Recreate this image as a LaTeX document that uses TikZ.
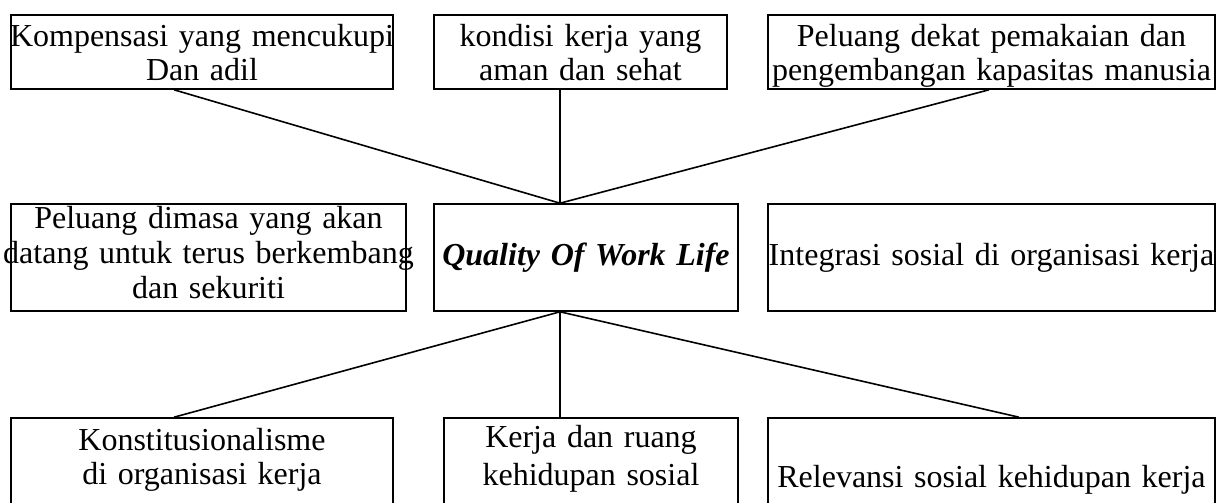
\documentclass[tikz,border=0pt]{standalone}
\usepackage{fontspec}
\setmainfont{Liberation Serif}
% one centred line of a box, allowed to run past the frame evenly
\newcommand\rowtxt[1]{\makebox[\linewidth][c]{#1}}
\begin{document}
\begin{tikzpicture}[x=1pt,y=-1pt,
  box/.style={draw, line width=1.6pt, inner sep=0pt, align=center,
    font=\fontsize{32}{34}\selectfont},
  toprow/.style={box, minimum height=74pt, text height=0pt, text depth=10pt},
  midrow/.style={box, minimum height=107pt},
  lowrow/.style={box, minimum height=112pt},
  link/.style={line width=1.6pt}]
\useasboundingbox (0,0) rectangle (1229,503);

% upper row
\node[toprow, minimum width=382pt, text width=382pt] (A) at (202,52)
  {\rowtxt{Kompensasi yang mencukupi}\\\rowtxt{Dan adil}};
\node[toprow, minimum width=293pt, text width=293pt] (B) at (580.5,52)
  {\rowtxt{kondisi kerja yang}\\\rowtxt{aman dan sehat}};
\node[toprow, minimum width=447pt, text width=447pt] (C) at (991.5,52)
  {\rowtxt{Peluang dekat pemakaian dan}\\\rowtxt{pengembangan kapasitas manusia}};

% middle row
\node[midrow, minimum width=395pt, text width=395pt, text height=0pt, text depth=59pt,
  font=\fontsize{32}{35}\selectfont] (D) at (208.5,257.5)
  {\rowtxt{Peluang dimasa yang akan}\\\rowtxt{datang untuk terus berkembang}\\\rowtxt{dan sekuriti}};
\node[midrow, minimum width=304pt, text width=304pt, text height=15pt, text depth=0pt] (Q) at (586,257.5)
  {\rowtxt{\bfseries\itshape Quality Of Work Life}};
\node[midrow, minimum width=447pt, text width=447pt, text height=15pt, text depth=0pt] (E) at (991.5,257.5)
  {\rowtxt{Integrasi sosial di organisasi kerja}};

% lower row (frames run off the bottom edge)
\node[lowrow, minimum width=382pt, text width=382pt, text height=0pt, text depth=48pt] (F) at (202,474)
  {\rowtxt{Konstitusionalisme}\\\rowtxt{di organisasi kerja}};
\node[lowrow, minimum width=294pt, text width=294pt, text height=0pt, text depth=54pt,
  font=\fontsize{32}{38}\selectfont] (G) at (591,474)
  {\rowtxt{Kerja dan ruang}\\\rowtxt{kehidupan sosial}};
\node[lowrow, minimum width=447pt, text width=447pt, text height=26pt, text depth=0pt] (H) at (991.5,474)
  {\rowtxt{Relevansi sosial kehidupan kerja}};

% meeting points on the central box
\coordinate (qt) at ([xshift=-26pt]Q.north);
\coordinate (qb) at ([xshift=-26pt]Q.south);

\draw[link] ([xshift=-28pt]A.south) -- (qt);
\draw[link] ([xshift=-20.5pt]B.south) -- (qt);
\draw[link] ([xshift=-2.5pt]C.south) -- (qt);
\draw[link] (qb) -- ([xshift=-28pt]F.north);
\draw[link] (qb) -- ([xshift=-31pt]G.north);
\draw[link] (qb) -- ([xshift=27.5pt]H.north);
\end{tikzpicture}
\end{document}
